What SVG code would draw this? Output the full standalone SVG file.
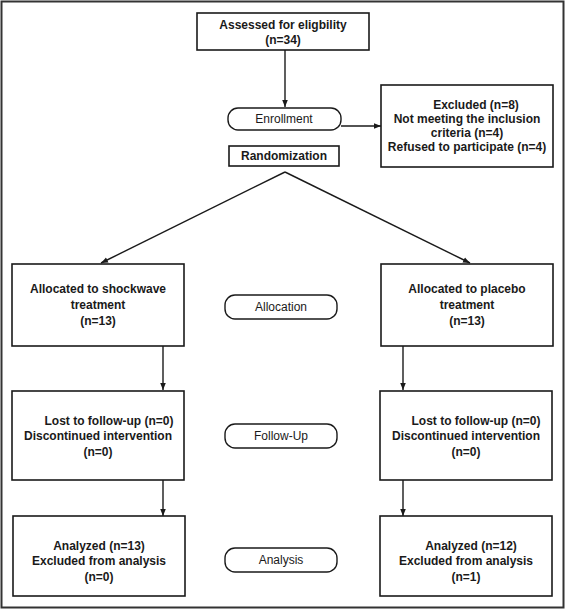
<svg xmlns="http://www.w3.org/2000/svg" width="566" height="611" viewBox="0 0 566 611">
<defs>
<marker id="ah" viewBox="0 0 10 10" refX="10" refY="5" markerWidth="7" markerHeight="7" markerUnits="userSpaceOnUse" orient="auto">
<path d="M0,1 L10,5 L0,9 z" fill="#1a1a1a"/>
</marker>
</defs>
<style>
.box{fill:#fff;stroke:#1a1a1a;stroke-width:1.6}
.pill{fill:#fff;stroke:#1a1a1a;stroke-width:1.4}
.b{font-family:"Liberation Sans",Arial,sans-serif;font-size:12px;font-weight:bold;fill:#1a1a1a;text-anchor:middle}
.r{font-family:"Liberation Sans",Arial,sans-serif;font-size:12px;fill:#1a1a1a;text-anchor:middle}
.ln{fill:none;stroke:#1a1a1a;stroke-width:1.4}
</style>
<rect x="1.5" y="1.5" width="562" height="606" fill="#fff" stroke="#333" stroke-width="2"/>
<g id="connectors">
<line class="ln" x1="285" y1="50" x2="285" y2="107" marker-end="url(#ah)"/>
<line class="ln" x1="341" y1="126" x2="381" y2="126" marker-end="url(#ah)"/>
<line class="ln" x1="285" y1="172" x2="101" y2="263" marker-end="url(#ah)"/>
<line class="ln" x1="285" y1="172" x2="470" y2="263" marker-end="url(#ah)"/>
<line class="ln" x1="163" y1="346" x2="163" y2="390" marker-end="url(#ah)"/>
<line class="ln" x1="403" y1="346" x2="403" y2="390" marker-end="url(#ah)"/>
<line class="ln" x1="163" y1="480" x2="163" y2="516" marker-end="url(#ah)"/>
<line class="ln" x1="403" y1="480" x2="403" y2="516" marker-end="url(#ah)"/>
</g>
<g id="assessed">
<rect class="box" x="197" y="13" width="172" height="37"/>
<text class="b" x="283" y="29">Assessed for eligbility</text>
<text class="b" x="283" y="44">(n=34)</text>
</g>
<g id="enrollment">
<rect class="pill" x="228" y="108" width="113" height="22" rx="10"/>
<text class="r" x="284" y="123">Enrollment</text>
</g>
<g id="excluded">
<rect class="box" x="381" y="85" width="172" height="82"/>
<text class="b" x="476" y="109">Excluded (n=8)</text>
<text class="b" x="467" y="123">Not meeting the inclusion</text>
<text class="b" x="467" y="137">criteria (n=4)</text>
<text class="b" x="467" y="151">Refused to participate (n=4)</text>
</g>
<g id="randomization">
<rect class="box" x="229" y="146" width="110" height="20"/>
<text class="b" x="284" y="160">Randomization</text>
</g>
<g id="alloc-left">
<rect class="box" x="12" y="264" width="172" height="82"/>
<text class="b" x="98" y="293">Allocated to shockwave</text>
<text class="b" x="98" y="309">treatment</text>
<text class="b" x="98" y="325">(n=13)</text>
</g>
<g id="allocation">
<rect class="pill" x="225" y="295" width="112" height="24" rx="10"/>
<text class="r" x="281" y="311">Allocation</text>
</g>
<g id="alloc-right">
<rect class="box" x="381" y="264" width="172" height="82"/>
<text class="b" x="467" y="293">Allocated to placebo</text>
<text class="b" x="467" y="309">treatment</text>
<text class="b" x="467" y="325">(n=13)</text>
</g>
<g id="follow-left">
<rect class="box" x="12" y="391" width="172" height="89"/>
<text class="b" x="109" y="425">Lost to follow-up (n=0)</text>
<text class="b" x="98" y="440">Discontinued intervention</text>
<text class="b" x="98" y="456">(n=0)</text>
</g>
<g id="followup">
<rect class="pill" x="225" y="424" width="112" height="24" rx="10"/>
<text class="r" x="281" y="440">Follow-Up</text>
</g>
<g id="follow-right">
<rect class="box" x="380" y="391" width="172" height="89"/>
<text class="b" x="476" y="425">Lost to follow-up (n=0)</text>
<text class="b" x="466" y="440">Discontinued intervention</text>
<text class="b" x="466" y="456">(n=0)</text>
</g>
<g id="analysis-left">
<rect class="box" x="13" y="516" width="172" height="80"/>
<text class="b" x="99" y="550">Analyzed (n=13)</text>
<text class="b" x="99" y="565">Excluded from analysis</text>
<text class="b" x="99" y="581">(n=0)</text>
</g>
<g id="analysis">
<rect class="pill" x="225" y="548" width="112" height="24" rx="10"/>
<text class="r" x="281" y="564">Analysis</text>
</g>
<g id="analysis-right">
<rect class="box" x="380" y="516" width="172" height="80"/>
<text class="b" x="471" y="550">Analyzed (n=12)</text>
<text class="b" x="466" y="565">Excluded from analysis</text>
<text class="b" x="466" y="581">(n=1)</text>
</g>
</svg>
